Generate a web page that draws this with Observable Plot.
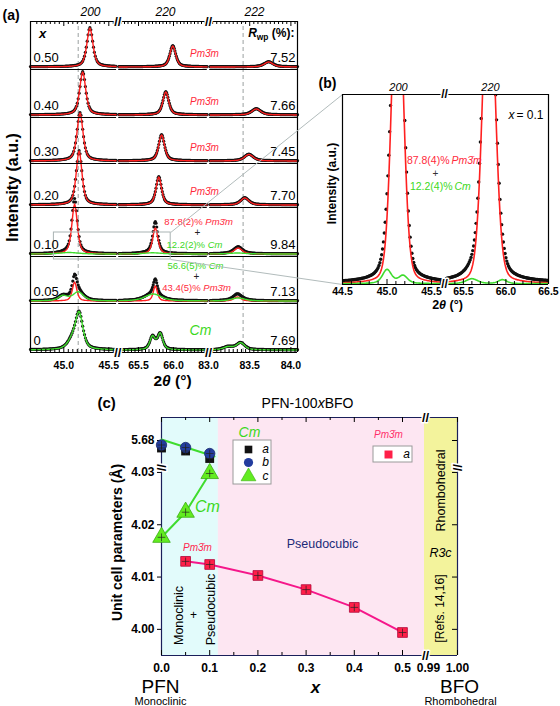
<!DOCTYPE html>
<html>
<head>
<meta charset="utf-8">
<script src="https://cdn.jsdelivr.net/npm/d3@7"></script>
<script src="https://cdn.jsdelivr.net/npm/@observablehq/plot@0.6"></script>
<style>
html,body{margin:0;padding:0;background:#fff;}
#root{position:relative;width:560px;height:706px;overflow:hidden;background:#fff;}
#root svg{position:absolute;overflow:visible;}
</style>
</head>
<body>
<div id="root"></div>
<script>
// ====================== DATA ======================
// ---- Panel (a): XRD profiles, PFN-100xBFO ----
const compositions = ["0", "0.05", "0.10", "0.20", "0.30", "0.40", "0.50"];   // bottom -> top
const rwpValues    = ["7.69", "7.13", "9.84", "7.70", "7.45", "7.66", "7.52"];
const reflections  = ["200", "220", "222"];
const rangesA      = [[44.63, 45.6], [65.2, 66.5], [83.0, 84.08]];           // broken 2θ axis
const tickLabelsA  = [45.0, 45.5, 65.5, 66.0, 83.0, 83.5, 84.0];
const referenceLinesA = [45.16, 83.42];
// peak components: [row, 2θ centre, height (a.u.), HWHM (°)]
const pm3mPeaksA = [
  [6, 45.29, 39, 0.040], [6, 65.99, 21, 0.050], [6, 83.73, 5, 0.065],
  [5, 45.21, 43, 0.040], [5, 65.89, 23, 0.050], [5, 83.58, 6, 0.065],
  [4, 45.18, 48, 0.040], [4, 65.83, 26, 0.050], [4, 83.49, 6.5, 0.065],
  [3, 45.17, 54, 0.038], [3, 65.79, 28, 0.047], [3, 83.44, 7, 0.060],
  [2, 45.12, 50, 0.036], [2, 65.74, 26, 0.045], [2, 83.36, 6, 0.060],
  [1, 45.12, 19, 0.030], [1, 65.74, 15, 0.035], [1, 83.35, 4, 0.050]
];
const cmPeaksA = [
  [2, 45.06, 1.5, 0.12], [2, 65.70, 1.2, 0.15], [2, 83.35, 1, 0.12],
  [1, 44.99, 5, 0.06], [1, 45.16, 9, 0.07], [1, 65.71, 7, 0.14], [1, 83.36, 3, 0.10],
  [0, 45.17, 36, 0.050], [0, 45.09, 8, 0.06], [0, 65.70, 13, 0.045], [0, 65.81, 16, 0.045],
  [0, 83.24, 3, 0.07], [0, 83.39, 7, 0.06]
];
const residualPeaksA = [[2, 45.12, 4, 0.03], [2, 65.74, 5, 0.03]];
const fractions010 = ["87.8(2)%", "12.2(2)%"];
const fractions005 = ["56.6(5)%", "43.4(5)%"];

// ---- Panel (b): x = 0.1 magnified ----
const rangesB     = [[44.5, 45.635], [65.29, 66.5]];
const tickLabelsB = [44.5, 45.0, 45.5, 65.5, 66.0, 66.5];
const pm3mPeaksB  = [[45.118, 330, 0.075], [65.80, 326, 0.085]];      // [2θ, height, HWHM]
const cmPeaksB    = [[45.00, 14, 0.06], [45.18, 8, 0.06], [65.60, 5, 0.08], [65.96, 4, 0.06]];
const residualPeaksB = [[45.11, 12, 0.15], [65.78, 13, 0.21]];
const fractionsB  = ["87.8(4)%", "12.2(4)%"];

// ---- Panel (c): unit cell parameters ----
const cmX  = [0.0, 0.05, 0.1];
const cmA  = [5.6785, 5.6779, 5.6764];      // a (Cm)
const cmB  = [5.6791, 5.6786, 5.6774];      // b (Cm)
const cmC  = [4.0176, 4.0224, 4.0298];      // c (Cm)
const cmTrendX = [0.0, 0.11];
const cmTrendY = [5.6802, 5.6768];
const pmX  = [0.05, 0.1, 0.2, 0.3, 0.4, 0.5];
const pmA  = [4.0130, 4.0124, 4.0103, 4.0076, 4.0042, 3.9994];   // a (Pm-3m)
const xTicksC = [0.0, 0.1, 0.2, 0.3, 0.4, 0.5, 0.99, 1.0];
const xMinorC = [0.05, 0.15, 0.25, 0.35, 0.45];
const yTicksC = [4.00, 4.01, 4.02, 4.03, 5.68];
const phaseBoundaryC = 0.118;

// ====================== HELPERS ======================
const RED = "#ff2020", GREEN = "#3fdc2e", RED_T = "#ff2a3c", GREEN_T = "#3cd81c";
const PINK = "#f5178a", NAVY = "#1b2a78";
const FONT = "'Liberation Sans', Arial, Helvetica, sans-serif";
const root = document.getElementById("root");
const baseStyle = {fontFamily: FONT, fontSize: "12px", background: "transparent", overflow: "visible", color: "#000"};

function place(svg, left, top) {
  svg.style.position = "absolute"; svg.style.left = left + "px"; svg.style.top = top + "px";
  root.appendChild(svg); richify(svg); return svg;
}
// "|...|" -> italic, "_{...}" -> subscript
function richify(svg) {
  const ns = "http://www.w3.org/2000/svg";
  svg.querySelectorAll("text").forEach(el => {
    const t = el.textContent;
    if (!/\||_\{/.test(t)) return;
    const parts = t.split(/(\|[^|]*\||_\{[^}]*\})/).filter(s => s.length);
    el.textContent = "";
    let shifted = false;
    for (const p of parts) {
      const ts = document.createElementNS(ns, "tspan");
      if (p[0] === "|") { ts.textContent = p.slice(1, -1); ts.setAttribute("font-style", "italic"); if (shifted) { ts.setAttribute("dy", "-3"); shifted = false; } }
      else if (p.startsWith("_{")) { ts.textContent = p.slice(2, -1); ts.setAttribute("font-size", "70%"); ts.setAttribute("dy", "3"); shifted = true; }
      else { ts.textContent = p; if (shifted) { ts.setAttribute("dy", "-3"); shifted = false; } }
      el.appendChild(ts);
    }
  });
}
const pv = (t, c, h, w, eta) => { const z = (t - c) / w; return h * (eta / (1 + z * z) + (1 - eta) * Math.exp(-Math.LN2 * z * z)); };
function grid(lo, hi, step) { const out = []; const n = Math.round((hi - lo) / step); for (let i = 0; i <= n; i++) out.push(+(lo + i * step).toFixed(3)); return out; }
const T = (str, x, y, o = {}) => Plot.text([str], {x, y, text: d => d, ...o});

// ====================== PANEL (a) ======================
const WA = 267, HA = 331;
const segUA = [0, 87, 178], segKA = [90, 70, 82.4];
const rowBottomA = [0, 49, 96, 145, 189, 235, 283];
const vxA = t => { for (let s = 0; s < 3; s++) if (t >= rangesA[s][0] - 1e-9 && t <= rangesA[s][1] + 1e-9) return segUA[s] + (t - rangesA[s][0]) * segKA[s]; return NaN; };
const gridsA = [grid(44.63, 45.58, 0.01), grid(65.22, 66.48, 0.01), grid(83.02, 84.08, 0.01)];
const rowSum = (list, r, t, eta) => list.reduce((a, p) => p[0] === r ? a + pv(t, p[1], p[2], p[3], eta) : a, 0);
const pmRowsA = new Set(pm3mPeaksA.map(p => p[0])), cmRowsA = new Set(cmPeaksA.map(p => p[0]));
const dotsA = [], fitPA = [], fitCA = [];
compositions.forEach((_, r) => gridsA.forEach((g, s) => g.forEach(t => {
  const base = rowBottomA[r] + 2.5, u = vxA(t);
  const p = rowSum(pm3mPeaksA, r, t, 0.6), c = rowSum(cmPeaksA, r, t, 0.6), e = rowSum(residualPeaksA, r, t, 0.6);
  if (pmRowsA.has(r)) fitPA.push({u, v: base + p, k: r * 3 + s});
  if (cmRowsA.has(r)) fitCA.push({u, v: base + c, k: r * 3 + s});
  dotsA.push({u, v: base + p + c + e + 0.3});
})));
const sepA = [];
[...rowBottomA, HA].forEach(v => rangesA.forEach((rg, s) => sepA.push({v, x1: vxA(rg[0]) + (s ? 1.2 : 0), x2: vxA(rg[1]) - (s < 2 ? 1.2 : 0)})));
const breakUA = [vxA(rangesA[0][1]), vxA(rangesA[1][1])];
const breaksA = breakUA.flatMap(u => [{u, v: 0}, {u, v: HA}]);
const minorA = rangesA.flatMap(([lo, hi]) => grid(Math.ceil(lo * 20) / 20, Math.floor(hi * 20) / 20, 0.05))
  .filter(t => !tickLabelsA.includes(t)).filter(t => { const u = vxA(t); return u > 2 && u < WA - 2 && breakUA.every(b => Math.abs(u - b) > 2); });
const zoomBoxA = {from: 44.89, to: 65.96, row: 2, lo: -3, hi: 24};

const plotA = Plot.plot({
  width: 300, height: 400, marginLeft: 30, marginRight: 3, marginTop: 21, marginBottom: 48,
  style: baseStyle,
  x: {domain: [0, WA], axis: null}, y: {domain: [0, HA], axis: null},
  marks: [
    Plot.ruleX(referenceLinesA, {x: vxA, y1: 0, y2: HA, stroke: "#9aa0a0", strokeDasharray: "4,3"}),
    Plot.dot(dotsA, {x: "u", y: "v", r: 1.6, fill: "#111"}),
    Plot.line(fitPA, {x: "u", y: "v", z: "k", stroke: RED, strokeWidth: 1.4}),
    Plot.line(fitCA, {x: "u", y: "v", z: "k", stroke: GREEN, strokeWidth: 1.4}),
    Plot.ruleY(sepA, {y: "v", x1: "x1", x2: "x2", strokeWidth: 1.2}),
    Plot.ruleX([0, WA], {y1: 0, y2: HA, strokeWidth: 1.2}),
    Plot.ruleX(minorA, {x: vxA, y1: 0, y2: 3}),
    Plot.ruleX(minorA, {x: vxA, y1: HA - 3, y2: HA}),
    Plot.ruleX(tickLabelsA, {x: vxA, y1: 0, y2: 5}),
    Plot.ruleX(tickLabelsA, {x: vxA, y1: HA - 5, y2: HA}),
    Plot.text(tickLabelsA, {x: vxA, y: -13, text: d => d.toFixed(1), fontSize: 10.5, fontWeight: "bold"}),
    Plot.text(breaksA, {x: "u", y: "v", text: () => "//", fontSize: 13, fontWeight: "bold", fill: "black", stroke: "white", strokeWidth: 3}),
    Plot.rect([zoomBoxA], {x1: d => vxA(d.from), x2: d => vxA(d.to), y1: d => rowBottomA[d.row] + d.lo, y2: d => rowBottomA[d.row] + d.hi, fill: "none", stroke: "#a9b3b3", strokeWidth: 1}),
    // labels
    Plot.text(compositions, {x: 3, y: (d, i) => rowBottomA[i] + 12, textAnchor: "start", fontSize: 13}),
    Plot.text(rwpValues, {x: WA - 2, y: (d, i) => rowBottomA[i] + 12, textAnchor: "end", fontSize: 13}),
    Plot.text([3, 4, 5, 6], {x: 174, y: r => rowBottomA[r] + 16, text: () => "Pm3\u0304m", fontStyle: "italic", fontSize: 10, fill: RED_T}),
    Plot.text(reflections, {x: (d, i) => [60, 135, 224][i], y: HA + 9, fontStyle: "italic", fontSize: 12}),
    T(fractions010[0] + " |Pm3\u0304m|", 168, rowBottomA[2] + 35, {fontSize: 9.5, fill: RED_T}),
    T("+", 167, rowBottomA[2] + 24, {fontSize: 10, fill: "#222"}),
    T(fractions010[1] + " |Cm|", 164, rowBottomA[2] + 12, {fontSize: 9.5, fill: GREEN_T}),
    T(fractions005[0] + " |Cm|", 165, rowBottomA[1] + 38, {fontSize: 9.5, fill: GREEN_T}),
    T("+", 166, rowBottomA[1] + 27, {fontSize: 10, fill: "#222"}),
    T(fractions005[1] + " |Pm3\u0304m|", 166, rowBottomA[1] + 16, {fontSize: 9.5, fill: RED_T}),
    T("Cm", 170, 22, {fontSize: 14, fontStyle: "italic", fill: GREEN_T}),
    T("x", 12, 319, {fontSize: 13, fontWeight: "bold", fontStyle: "italic"}),
    T("|R|_{wp} (%):", WA - 3, 319, {fontSize: 12, fontWeight: "bold", textAnchor: "end"}),
    T("(a)", -28, 337, {fontSize: 14, fontWeight: "bold", textAnchor: "start"}),
    T("Intensity (a.u.)", -18, 165, {fontSize: 16, fontWeight: "bold", rotate: -90}),
    T("2|θ| (°)", 142, -28.5, {fontSize: 15.5, fontWeight: "bold"})
  ]
});
place(plotA, 0, 0);

// ====================== PANEL (b) ======================
const WB = 206, HB = 190;
const segUB = [0, 103], segKB = [89, 85.1];
const vxB = t => { for (let s = 0; s < 2; s++) if (t >= rangesB[s][0] - 1e-9 && t <= rangesB[s][1] + 1e-9) return segUB[s] + (t - rangesB[s][0]) * segKB[s]; return NaN; };
const gridsB = [grid(44.5, 45.62, 0.01), grid(65.30, 66.5, 0.01)];
const sumB = (list, t, eta) => list.reduce((a, p) => a + pv(t, p[0], p[1], p[2], eta), 0);
const dotsB = [], fitPB = [], fitCB = [];
gridsB.forEach((g, s) => g.forEach(t => {
  const u = vxB(t), p = sumB(pm3mPeaksB, t, 0.2), c = sumB(cmPeaksB, t, 0.5), e = sumB(residualPeaksB, t, 1);
  fitPB.push({u, v: 0.8 + p, k: s});
  fitCB.push({u, v: 0.8 + c, k: s});
  dotsB.push({u, v: 2 + p + c + e});
}));
const breakUB = vxB(rangesB[0][1]) + 1;
const minorB = rangesB.flatMap(([lo, hi]) => grid(Math.ceil(lo * 10) / 10, Math.floor(hi * 10) / 10, 0.1))
  .filter(t => !tickLabelsB.includes(t)).filter(t => { const u = vxB(t); return u > 2 && u < WB - 2 && Math.abs(u - breakUB) > 2; });

const plotB = Plot.plot({
  width: 260, height: 260, marginLeft: 42, marginRight: 12, marginTop: 34, marginBottom: 36,
  style: baseStyle,
  x: {domain: [0, WB], axis: null}, y: {domain: [0, HB], axis: null},
  marks: [
    Plot.dot(dotsB, {x: "u", y: "v", r: 1.7, fill: "#111", clip: true}),
    Plot.line(fitPB, {x: "u", y: "v", z: "k", stroke: RED, strokeWidth: 1.6, clip: true}),
    Plot.line(fitCB, {x: "u", y: "v", z: "k", stroke: GREEN, strokeWidth: 1.6, clip: true}),
    Plot.ruleX([0, WB], {y1: 0, y2: HB, strokeWidth: 1.2}),
    Plot.ruleY([0, HB], {x1: 0, x2: WB, strokeWidth: 1.2}),
    Plot.ruleX(minorB, {x: vxB, y1: 0, y2: 3}),
    Plot.ruleX(tickLabelsB, {x: vxB, y1: 0, y2: 5}),
    Plot.text(tickLabelsB, {x: vxB, y: -7, text: d => d.toFixed(1), fontSize: 10.5, fontWeight: "bold"}),
    Plot.text([0, HB], {x: breakUB, y: d => d, text: () => "//", fontSize: 12, fontWeight: "bold", fill: "black", stroke: "white", strokeWidth: 3}),
    T("(b)", -24, 201, {fontSize: 14, fontWeight: "bold", textAnchor: "start"}),
    Plot.text(reflections.slice(0, 2), {x: (d, i) => [56, 148][i], y: HB + 7, fontStyle: "italic", fontSize: 11}),
    T("= 0.1", 201, 169, {fontSize: 12, textAnchor: "end"}),
    T("x", 172, 169, {fontSize: 12, fontStyle: "italic", textAnchor: "end"}),
    T(fractionsB[0], 107, 124, {fontSize: 10.5, fill: RED_T, textAnchor: "end"}),
    T("Pm3\u0304m", 109, 124, {fontSize: 10.5, fill: RED_T, fontStyle: "italic", textAnchor: "start"}),
    T("+", 93, 111, {fontSize: 10, fill: "#333"}),
    T(fractionsB[1], 110, 98, {fontSize: 10.5, fill: GREEN_T, textAnchor: "end"}),
    T("Cm", 112, 98, {fontSize: 10.5, fill: GREEN_T, fontStyle: "italic", textAnchor: "start"}),
    T("Intensity (a.u.)", -10, 101, {fontSize: 12, fontWeight: "bold", rotate: -90}),
    T("2|θ| (°)", 105, -20.5, {fontSize: 12.5, fontWeight: "bold"})
  ]
});

// ====================== connectors (zoom box -> panel b) ======================
const sxA = plotA.scale("x"), syA = plotA.scale("y"), sxB = plotB.scale("x"), syB = plotB.scale("y");
const connectors = [
  {x1: sxA.apply(vxA(zoomBoxA.to)), y1: syA.apply(rowBottomA[2] + zoomBoxA.hi), x2: 300 + sxB.apply(0), y2: 60 + syB.apply(HB)},
  {x1: sxA.apply(vxA(zoomBoxA.to)), y1: syA.apply(rowBottomA[2] + zoomBoxA.lo), x2: 300 + sxB.apply(0), y2: 60 + syB.apply(0)}
];
const overlay = Plot.plot({
  width: 560, height: 706, margin: 0, style: baseStyle,
  x: {domain: [0, 560], range: [0, 560], axis: null}, y: {domain: [0, 706], range: [0, 706], axis: null},
  marks: [Plot.link(connectors, {x1: "x1", y1: "y1", x2: "x2", y2: "y2", stroke: "#b2bcbc", strokeWidth: 1})]
});
place(overlay, 0, 0);
place(plotB, 300, 60);

// ====================== PANEL (c) ======================
const WC = 296, HC = 238;
const vxC = x => x <= 0.6 ? x * 482 : 267 + (x - 0.99) * 2900;
const vyC = y => y < 5 ? (y - 3.995) * 5230 : 215 + (y - 5.68) * 5000;
const BRK_X = 263, BRK_Y = 188;
const pts = (xs, ys) => xs.map((x, i) => ({x, y: ys[i]}));
const cmAPts = pts(cmX, cmA), cmBPts = pts(cmX, cmB), cmCPts = pts(cmX, cmC), pmPts = pts(pmX, pmA);
const allPts = [...cmAPts, ...cmBPts, ...cmCPts, ...pmPts];
const P = {x: d => vxC(d.x), y: d => vyC(d.y)};

const plotC = Plot.plot({
  width: 500, height: 306, marginLeft: 101, marginRight: 103, marginTop: 17, marginBottom: 51,
  style: baseStyle,
  x: {domain: [0, WC], axis: null}, y: {domain: [0, HC], axis: null},
  marks: [
    Plot.rect([0], {x1: 0, x2: vxC(phaseBoundaryC), y1: 0, y2: HC, fill: "#e2fbfb"}),
    Plot.rect([0], {x1: vxC(phaseBoundaryC), x2: BRK_X, y1: 0, y2: HC, fill: "#fde6f2"}),
    Plot.rect([0], {x1: BRK_X, x2: WC, y1: 0, y2: HC, fill: "#f3f39c"}),
    // frame
    Plot.ruleX([0, WC], {y1: 0, y2: HC, stroke: "#1a1f5a", strokeWidth: 1.2}),
    Plot.ruleY([0, HC], {x1: 0, x2: WC, stroke: "#1a1f5a", strokeWidth: 1.2}),
    Plot.ruleX(xTicksC, {x: vxC, y1: 0, y2: 5}),
    Plot.ruleX(xTicksC, {x: vxC, y1: HC - 5, y2: HC}),
    Plot.ruleX(xMinorC, {x: vxC, y1: 0, y2: 3}),
    Plot.ruleX(xMinorC, {x: vxC, y1: HC - 3, y2: HC}),
    Plot.ruleY(yTicksC, {y: vyC, x1: -4, x2: 0}),
    Plot.ruleY(yTicksC, {y: vyC, x1: WC - 5, x2: WC}),
    Plot.text([0, HC], {x: BRK_X + 1, y: d => d, text: () => "//", fontSize: 13, fontWeight: "bold", fill: "black", stroke: "white", strokeWidth: 3}),
    Plot.text([0, WC], {x: d => d, y: BRK_Y, text: () => "//", rotate: 90, fontSize: 13, fontWeight: "bold", fill: "black", stroke: "white", strokeWidth: 3}),
    Plot.text(xTicksC, {x: vxC, y: -13, text: d => d > 0.9 ? d.toFixed(2) : d.toFixed(1), fontSize: 12, fontWeight: "bold"}),
    Plot.text(yTicksC, {x: -7, y: vyC, text: d => d.toFixed(2), textAnchor: "end", fontSize: 12, fontWeight: "bold"}),
    // lines
    Plot.line(pts(cmTrendX, cmTrendY), {...P, stroke: GREEN, strokeWidth: 2}),
    Plot.line(cmCPts, {...P, stroke: GREEN, strokeWidth: 2}),
    Plot.line(pmPts, {...P, stroke: PINK, strokeWidth: 2}),
    // points
    Plot.dot(cmAPts, {...P, symbol: "square", r: 5, fill: "#111"}),
    Plot.dot(cmBPts, {...P, symbol: "circle", r: 5.2, fill: "#233c9e", stroke: "#18296e", strokeWidth: 0.8}),
    Plot.dot(cmCPts, {...P, symbol: "triangle", r: 6.5, fill: "#62ec20", stroke: "#3aac10", strokeWidth: 0.8}),
    Plot.dot(pmPts, {...P, symbol: "square", r: 5.5, fill: "#ff1f48", stroke: "#b0063a", strokeWidth: 0.8}),
    Plot.dot(allPts, {...P, symbol: "plus", r: 2.6, stroke: "#222", strokeWidth: 0.7}),
    // legends
    Plot.rect([0], {x1: 72, x2: 110, y1: 171, y2: 215, fill: "white", stroke: "#9a9a9a"}),
    Plot.dot([0], {x: 87, y: 206, symbol: "square", r: 4.3, fill: "#111"}),
    Plot.dot([0], {x: 87, y: 193, symbol: "circle", r: 4.6, fill: "#233c9e"}),
    Plot.dot([0], {x: 87, y: 179, symbol: "triangle", r: 5.5, fill: "#62ec20", stroke: "#3aac10", strokeWidth: 0.6}),
    Plot.text(["a", "b", "c"], {x: 104, y: (d, i) => [206, 193, 179][i], fontStyle: "italic", fontSize: 12}),
    Plot.rect([0], {x1: 212, x2: 251, y1: 193, y2: 209, fill: "white", stroke: "#9a9a9a"}),
    Plot.dot([0], {x: 227, y: 201, symbol: "square", r: 4.5, fill: "#ff1f48"}),
    T("a", 245, 201, {fontStyle: "italic", fontSize: 12}),
    // annotations
    T("(c)", -64, 252, {fontSize: 15, fontWeight: "bold", textAnchor: "start"}),
    T("PFN-100|x|BFO", 146, 252, {fontSize: 14}),
    T("Cm", 88, 223, {fontSize: 14, fontStyle: "italic", fill: GREEN_T}),
    T("Cm", 46, 149, {fontSize: 16, fontStyle: "italic", fill: GREEN_T}),
    T("Pm3\u0304m", 36, 108, {fontSize: 10, fontStyle: "italic", fill: "#ff2850"}),
    T("Pm3\u0304m", 227, 221, {fontSize: 10, fontStyle: "italic", fill: "#ff2f6a"}),
    T("Pseudocubic", 161, 112, {fontSize: 12.5, fill: NAVY}),
    T("Monoclinic", 17, 40, {fontSize: 12.5, rotate: -90}),
    T("+", 32, 40, {fontSize: 12}),
    T("Pseudocubic", 49, 46, {fontSize: 12.5, rotate: -90}),
    T("Rhombohedral", 279, 165, {fontSize: 12.5, rotate: -90}),
    T("R3c", 279, 103, {fontSize: 12.5, fontStyle: "italic"}),
    T("[Refs. 14,16]", 279, 47, {fontSize: 12, rotate: -90}),
    T("Unit cell parameters (Å)", -44, 113, {fontSize: 14, fontWeight: "bold", rotate: -90}),
    T("PFN", -1, -31, {fontSize: 19}),
    T("Monoclinic", -1, -46, {fontSize: 11}),
    T("x", 154, -32, {fontSize: 17, fontWeight: "bold", fontStyle: "italic"}),
    T("BFO", 298, -31, {fontSize: 19}),
    T("Rhombohedral", 299, -46, {fontSize: 11})
  ]
});
place(plotC, 60, 400);
</script>
</body>
</html>
